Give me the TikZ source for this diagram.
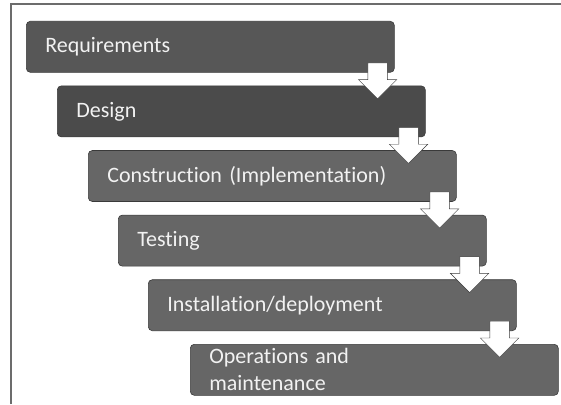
\documentclass[tikz,border=0pt]{standalone}
\usepackage{fontspec}
\setmainfont{Carlito}[Ligatures={NoCommon}]
\usetikzlibrary{positioning,shapes.arrows}
\definecolor{boxgray}{HTML}{666666}
\definecolor{boxdark}{HTML}{4B4B4B}
\definecolor{edgegray}{HTML}{3A3A3A}

\begin{document}
\begin{tikzpicture}[x=1pt,y=1pt,
    stage/.style={draw=edgegray,fill=boxgray,rounded corners=4pt,semithick,
      text=white!95!black,text width=330pt,inner xsep=19pt,inner ysep=0pt,
      minimum height=51pt,align=left,font=\fontsize{22}{27}\selectfont},
    next/.style={below=13pt of #1.south west,anchor=north west},
    down/.style={single arrow,shape border rotate=270,draw=edgegray,fill=white,
      thin,inner sep=9.5pt,minimum width=38pt,minimum height=36pt,
      single arrow head extend=9.5pt,anchor=tail}]

  \useasboundingbox (0,0) rectangle (561,-404);
  \draw[line width=2pt,gray!85!black] (10.5,-404) -- (10.5,-4.5) -- (561,-4.5);

  \node[stage,anchor=north west,fill=boxgray!110!white] (1) at (26,-21) {Requirements};
  \node[stage,next=1,xshift=31pt,fill=boxdark] (2) {Design};
  \node[stage,next=2,xshift=31pt] (3) {Construction (Implementation)};
  \node[stage,next=3,xshift=30pt] (4) {Testing};
  \node[stage,next=4,xshift=30pt] (5) {Installation/deployment};
  \node[stage,next=5,xshift=42pt] (6) {Operations and\\maintenance};

  \foreach \a in {1,...,5}
    \node[down] (arr\a) at ([xshift=-17pt,yshift=10pt]\a.south east) {};
\end{tikzpicture}
\end{document}
